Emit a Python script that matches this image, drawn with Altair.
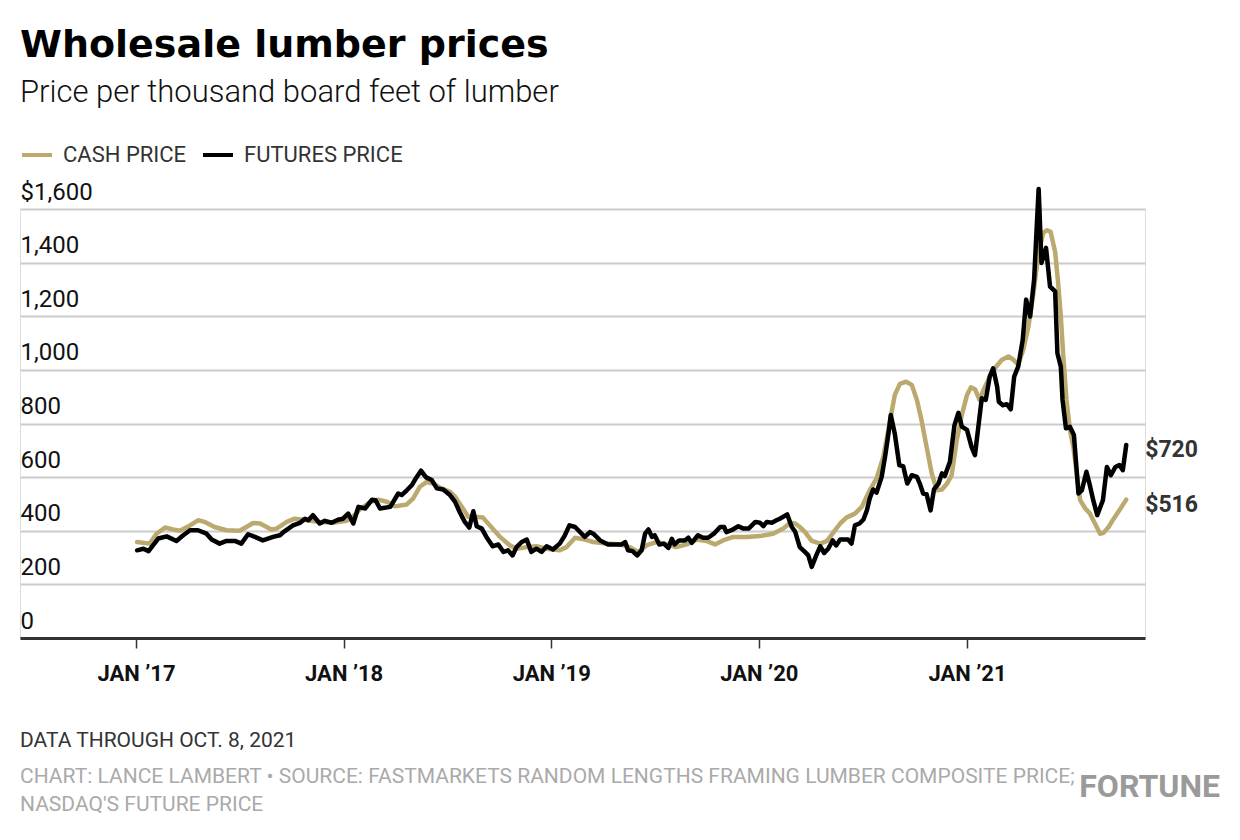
import altair as alt
import pandas as pd

futures_dates = [
    "2017-01-03", "2017-01-14", "2017-01-23", "2017-02-09", "2017-02-24", "2017-03-13", "2017-03-25",
    "2017-04-06", "2017-04-20", "2017-05-05", "2017-05-14", "2017-05-28", "2017-06-09", "2017-06-24",
    "2017-07-05", "2017-07-17", "2017-07-29", "2017-08-12", "2017-08-30", "2017-09-11", "2017-09-17",
    "2017-10-04", "2017-10-16", "2017-10-25", "2017-10-31", "2017-11-08", "2017-11-20", "2017-11-29",
    "2017-12-11", "2017-12-22", "2017-12-31", "2018-01-09", "2018-01-18", "2018-01-27", "2018-02-08",
    "2018-02-20", "2018-02-26", "2018-03-06", "2018-03-24", "2018-04-07", "2018-04-13", "2018-04-22",
    "2018-05-01", "2018-05-09", "2018-05-17", "2018-05-26", "2018-06-05", "2018-06-14", "2018-06-25",
    "2018-07-07", "2018-07-16", "2018-07-24", "2018-08-02", "2018-08-10", "2018-08-17", "2018-08-23",
    "2018-09-01", "2018-09-09", "2018-09-20", "2018-09-30", "2018-10-09", "2018-10-17", "2018-10-25",
    "2018-11-01", "2018-11-10", "2018-11-19", "2018-11-27", "2018-12-06", "2018-12-15", "2018-12-24",
    "2019-01-04", "2019-01-16", "2019-01-25", "2019-02-02", "2019-02-12", "2019-03-01", "2019-03-10",
    "2019-03-16", "2019-03-28", "2019-04-11", "2019-04-26", "2019-05-05", "2019-05-11", "2019-05-16",
    "2019-05-24", "2019-06-01", "2019-06-09", "2019-06-15", "2019-06-21", "2019-06-27", "2019-07-02",
    "2019-07-10", "2019-07-18", "2019-07-26", "2019-08-01", "2019-08-06", "2019-08-14", "2019-08-24",
    "2019-08-30", "2019-09-05", "2019-09-16", "2019-09-25", "2019-10-04", "2019-10-14", "2019-10-25",
    "2019-11-01", "2019-11-05", "2019-11-14", "2019-11-26", "2019-12-05", "2019-12-14", "2019-12-26",
    "2020-01-03", "2020-01-09", "2020-01-15", "2020-01-24", "2020-02-01", "2020-02-07", "2020-02-20",
    "2020-02-28", "2020-03-05", "2020-03-13", "2020-03-22", "2020-03-28", "2020-04-03", "2020-04-11",
    "2020-04-18", "2020-04-25", "2020-05-02", "2020-05-10", "2020-05-16", "2020-05-23", "2020-05-31",
    "2020-06-06", "2020-06-12", "2020-06-18", "2020-06-26", "2020-07-03", "2020-07-09", "2020-07-14",
    "2020-07-20", "2020-07-26", "2020-08-04", "2020-08-10", "2020-08-16", "2020-08-20", "2020-08-27",
    "2020-09-04", "2020-09-11", "2020-09-18", "2020-09-26", "2020-10-05", "2020-10-10", "2020-10-16",
    "2020-10-22", "2020-10-29", "2020-11-04", "2020-11-12", "2020-11-18", "2020-11-23", "2020-12-02",
    "2020-12-10", "2020-12-17", "2020-12-23", "2021-01-01", "2021-01-09", "2021-01-15", "2021-01-21",
    "2021-01-27", "2021-02-03", "2021-02-10", "2021-02-16", "2021-02-23", "2021-02-26", "2021-03-05",
    "2021-03-12", "2021-03-19", "2021-03-25", "2021-04-01", "2021-04-09", "2021-04-15", "2021-04-22",
    "2021-04-29", "2021-05-07", "2021-05-12", "2021-05-20", "2021-05-27", "2021-06-05", "2021-06-09",
    "2021-06-15", "2021-06-18", "2021-06-24", "2021-07-01", "2021-07-08", "2021-07-16", "2021-07-22",
    "2021-07-30", "2021-08-05", "2021-08-11", "2021-08-18", "2021-08-28", "2021-09-04", "2021-09-11",
    "2021-09-19", "2021-09-26", "2021-10-02", "2021-10-08",
]
futures_values = [
    327, 333, 324, 371, 379, 362, 383,
    402, 402, 389, 367, 352, 362, 362,
    352, 387, 377, 364, 377, 383, 395,
    420, 429, 445, 439, 458, 427, 437,
    430, 441, 445, 464, 427, 489, 483,
    516, 514, 483, 489, 539, 533, 551,
    570, 599, 624, 599, 589, 558, 554,
    533, 508, 470, 433, 412, 473, 417,
    408, 377, 342, 349, 321, 327, 308,
    339, 358, 367, 321, 333, 321, 342,
    330, 352, 383, 420, 414, 377, 395,
    389, 364, 349, 349, 349, 358, 327,
    324, 308, 327, 389, 405, 377, 383,
    349, 352, 336, 370, 349, 364, 364,
    374, 355, 383, 374, 374, 389, 414,
    414, 395, 402, 417, 408, 408, 433,
    430, 417, 433, 430, 439, 445, 461,
    414, 396, 339, 321, 308, 265, 308,
    342, 317, 333, 364, 345, 367, 367,
    367, 352, 420, 427, 442, 476, 520,
    554, 542, 601, 676, 763, 832, 763,
    645, 640, 576, 607, 601, 576, 539,
    536, 476, 554, 576, 614, 604, 657,
    794, 840, 788, 776, 713, 682, 788,
    894, 888, 975, 1006, 938, 881, 868,
    872, 853, 975, 1012, 1112, 1262, 1199,
    1336, 1675, 1399, 1455, 1311, 1293, 1062,
    1012, 888, 782, 788, 757, 539, 551,
    620, 570, 514, 458, 514, 638, 607,
    638, 645, 626, 720,
]

cash_dates = [
    "2017-01-03", "2017-01-25", "2017-02-06", "2017-02-21", "2017-03-07", "2017-03-19", "2017-04-06",
    "2017-04-20", "2017-05-02", "2017-05-19", "2017-06-09", "2017-07-02", "2017-07-14", "2017-07-26",
    "2017-08-07", "2017-08-27", "2017-09-05", "2017-09-23", "2017-10-07", "2017-10-28", "2017-11-20",
    "2017-12-14", "2018-01-06", "2018-01-18", "2018-01-30", "2018-02-17", "2018-03-03", "2018-03-18",
    "2018-04-01", "2018-04-22", "2018-05-03", "2018-05-15", "2018-05-27", "2018-06-08", "2018-06-19",
    "2018-07-07", "2018-07-16", "2018-07-28", "2018-08-08", "2018-08-20", "2018-09-03", "2018-09-15",
    "2018-10-03", "2018-10-20", "2018-11-01", "2018-11-19", "2018-12-06", "2018-12-24", "2019-01-16",
    "2019-01-28", "2019-02-12", "2019-03-01", "2019-03-16", "2019-04-08", "2019-05-02", "2019-05-19",
    "2019-06-03", "2019-06-18", "2019-07-05", "2019-07-23", "2019-08-09", "2019-08-27", "2019-09-14",
    "2019-10-01", "2019-10-16", "2019-10-30", "2019-11-17", "2019-12-11", "2020-01-03", "2020-01-26",
    "2020-02-13", "2020-02-25", "2020-03-05", "2020-03-13", "2020-03-22", "2020-04-03", "2020-04-18",
    "2020-04-30", "2020-05-12", "2020-05-23", "2020-06-03", "2020-06-18", "2020-06-30", "2020-07-14",
    "2020-07-26", "2020-08-07", "2020-08-19", "2020-08-27", "2020-09-05", "2020-09-16", "2020-09-26",
    "2020-10-05", "2020-10-13", "2020-10-22", "2020-10-31", "2020-11-09", "2020-11-18", "2020-11-27",
    "2020-12-05", "2020-12-14", "2020-12-23", "2021-01-01", "2021-01-08", "2021-01-15", "2021-01-23",
    "2021-01-30", "2021-02-10", "2021-02-19", "2021-03-03", "2021-03-15", "2021-03-24", "2021-04-01",
    "2021-04-10", "2021-04-19", "2021-04-28", "2021-05-06", "2021-05-15", "2021-05-22", "2021-05-28",
    "2021-06-05", "2021-06-10", "2021-06-15", "2021-06-19", "2021-06-25", "2021-07-01", "2021-07-07",
    "2021-07-13", "2021-07-19", "2021-07-28", "2021-08-05", "2021-08-14", "2021-08-23", "2021-08-29",
    "2021-09-07", "2021-09-16", "2021-09-28", "2021-10-08",
]
cash_values = [
    358, 352, 389, 412, 405, 400, 420,
    439, 433, 414, 402, 400, 414, 429,
    427, 405, 408, 433, 445, 439, 433,
    430, 437, 454, 480, 508, 516, 508,
    491, 498, 520, 564, 582, 576, 561,
    545, 527, 489, 452, 452, 449, 420,
    377, 346, 333, 339, 342, 333, 327,
    339, 374, 367, 358, 352, 349, 339,
    321, 346, 358, 349, 339, 349, 367,
    362, 349, 364, 377, 377, 380, 389,
    408, 430, 427, 414, 396, 362, 352,
    362, 396, 427, 449, 464, 489, 551,
    595, 676, 813, 906, 948, 956, 944,
    888, 813, 713, 614, 551, 554, 576,
    607, 738, 832, 906, 935, 928, 888,
    925, 975, 1006, 1037, 1050, 1037, 1019,
    1075, 1162, 1287, 1423, 1511, 1521, 1515,
    1440, 1330, 1200, 1062, 888, 776, 713,
    614, 514, 483, 464, 427, 389, 392,
    414, 445, 483, 516,
]

series_names = ["CASH PRICE", "FUTURES PRICE"]
y_ticks = [0, 200, 400, 600, 800, 1000, 1200, 1400, 1600]
x_tick_years = [2017, 2018, 2019, 2020, 2021]

TAN = "#bca96f"
SANS = "Roboto"

cash = pd.DataFrame({"date": cash_dates, "price": cash_values, "series": series_names[0]})
fut = pd.DataFrame({"date": futures_dates, "price": futures_values, "series": series_names[1]})
df = pd.concat([cash, fut], ignore_index=True)

ends = pd.DataFrame({
    "date": [futures_dates[-1], cash_dates[-1]],
    "price": [futures_values[-1], cash_values[-1]],
    "label": ["$" + str(futures_values[-1]), "$" + str(cash_values[-1])],
})

x_scale = alt.Scale(
    type="utc",
    domain=[alt.DateTime(year=2016, month=6, date=11, utc=True),
            alt.DateTime(year=2021, month=11, date=10, utc=True)],
)
y_scale = alt.Scale(domain=[0, 1600], nice=False, zero=True)

x_enc = alt.X(
    "date:T", scale=x_scale, title=None,
    axis=alt.Axis(
        values=[alt.DateTime(year=y, month=1, date=1, utc=True) for y in x_tick_years],
        labelExpr="'JAN \u2019' + utcFormat(datum.value, '%y')",
        grid=False, domainColor="#333333", domainWidth=3,
        tickColor="#333333", tickWidth=1.5, tickSize=10,
        labelFont=SANS, labelFontSize=22, labelFontWeight="bold", labelColor="#111111",
        labelPadding=15, labelFlush=False, labelOverlap=False,
    ),
)
y_enc = alt.Y(
    "price:Q", scale=y_scale, title=None,
    axis=alt.Axis(
        values=y_ticks,
        labelExpr="datum.value == 1600 ? '$1,600' : format(datum.value, ',')",
        orient="left", domain=False, ticks=False, tickSize=0,
        labelAlign="left", labelPadding=0, labelBaseline="alphabetic", labelOffset=-10,
        labelFont=SANS, labelFontSize=24, labelColor="#111111",
        grid=True, gridColor="#cccccc", gridWidth=2,
    ),
)

lines = alt.Chart(df).mark_line(strokeWidth=4.5, strokeJoin="round", strokeCap="round").encode(
    x=x_enc,
    y=y_enc,
    color=alt.Color(
        "series:N",
        scale=alt.Scale(domain=series_names, range=[TAN, "#000000"]),
        legend=alt.Legend(
            orient="none", legendX=0, legendY=-71, direction="horizontal", title=None,
            symbolType="stroke", symbolStrokeWidth=4, symbolSize=900,
            labelFont=SANS, labelFontSize=22, labelColor="#333333", labelLimit=0,
            labelOffset=9, columnPadding=8, padding=0,
        ),
    ),
)

end_labels = alt.Chart(ends).mark_text(
    align="left", baseline="middle", dx=19, dy=5,
    font=SANS, fontSize=23, fontWeight="bold", color="#333333",
).encode(x=alt.X("date:T", scale=x_scale), y=alt.Y("price:Q", scale=y_scale), text="label:N")


def note(text, x, y, size, color, weight="normal", align="left", font=SANS):
    return alt.Chart(pd.DataFrame({"t": [text]})).mark_text(
        align=align, baseline="middle", font=font, fontSize=size, fontWeight=weight, color=color,
    ).encode(text="t:N", x=alt.value(x), y=alt.value(y))


notes = [
    note("DATA THROUGH OCT. 8, 2021", 0, 532, 21, "#333333"),
    note("CHART: LANCE LAMBERT \u2022 SOURCE: FASTMARKETS RANDOM LENGTHS FRAMING LUMBER COMPOSITE PRICE;",
         0, 568, 21, "#aaaaaa"),
    note("NASDAQ'S FUTURE PRICE", 0, 596, 21, "#aaaaaa"),
    note("FORTUNE", 1200, 578, 32, "#9a9a9a", weight="bold", align="right"),
]

chart = alt.layer(lines, end_labels, *notes).properties(
    width=1125, height=429,
    autosize=alt.AutoSizeParams(type="none"),
    padding={"left": 12, "top": 201, "right": 85, "bottom": 190},
    title=alt.TitleParams(
        text="Wholesale lumber prices",
        subtitle="Price per thousand board feet of lumber",
        anchor="start", frame="group", offset=30,
        font="DejaVu Sans", fontSize=38, fontWeight="bold", color="#000000",
        subtitleFont=SANS, subtitleFontSize=31, subtitleFontWeight=300, subtitleColor="#111111",
        subtitlePadding=13,
    ),
).configure_view(stroke=None).configure(background="#ffffff")

chart.save("out.html", embed_options={"renderer": "svg", "actions": False})
